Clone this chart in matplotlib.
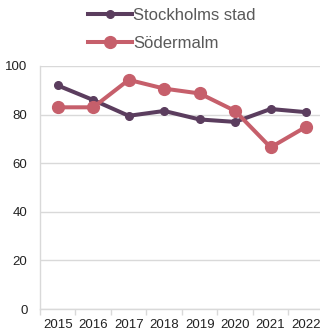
import matplotlib
matplotlib.use("Agg")
import matplotlib.pyplot as plt
import numpy as np

years = ["2015", "2016", "2017", "2018", "2019", "2020", "2021", "2022"]
stockholm = [92, 86, 79.5, 81.5, 78, 77, 82.3, 81]
sodermalm = [83, 83, 94.3, 90.7, 88.7, 81.5, 66.5, 75]
series_names = ["Stockholms stad", "Södermalm"]
yticks = [0, 20, 40, 60, 80, 100]

c_sthlm = "#5b3d5e"
c_soder = "#c65f6b"
text_col = "#595959"

plt.rcParams["font.family"] = ["Liberation Sans", "DejaVu Sans"]

fig = plt.figure(figsize=(3.2, 3.3), dpi=100)
ax = fig.add_axes([0.125, 0.0636, 0.887, 0.7364])

x = np.arange(len(years))
ax.plot(x, stockholm, color=c_sthlm, lw=2.9, marker="o", ms=5.5,
        label=series_names[0], clip_on=False, zorder=3)
ax.plot(x, sodermalm, color=c_soder, lw=2.9, marker="o", ms=8.5,
        label=series_names[1], clip_on=False, zorder=3)

ax.set_xlim(-0.5, len(years) - 0.5)
ax.set_ylim(0, 100)
ax.set_yticks(yticks)
ax.set_xticks(x)
ax.set_xticklabels(years)
ax.set_xticks(np.arange(-0.5, len(years)), minor=True)
ax.tick_params(axis="x", which="major", length=0, labelsize=9.5,
               labelcolor="#222222", pad=7)
ax.tick_params(axis="x", which="minor", length=4, color="#d9d9d9", width=1)
ax.tick_params(axis="y", length=0, labelsize=9.5, labelcolor="#222222", pad=9)

ax.grid(axis="y", color="#d9d9d9", lw=1)
ax.set_axisbelow(True)
for s in ["top", "right"]:
    ax.spines[s].set_visible(False)
for s in ["left", "bottom"]:
    ax.spines[s].set_color("#d9d9d9")
    ax.spines[s].set_linewidth(1)

leg = ax.legend(loc="upper left", bbox_to_anchor=(0.17, 1.24), frameon=False,
                fontsize=12, handlelength=2.6, labelspacing=0.8,
                handletextpad=0.1, borderaxespad=0, borderpad=0)
for t in leg.get_texts():
    t.set_color(text_col)

fig.savefig("out.png", dpi=100)
